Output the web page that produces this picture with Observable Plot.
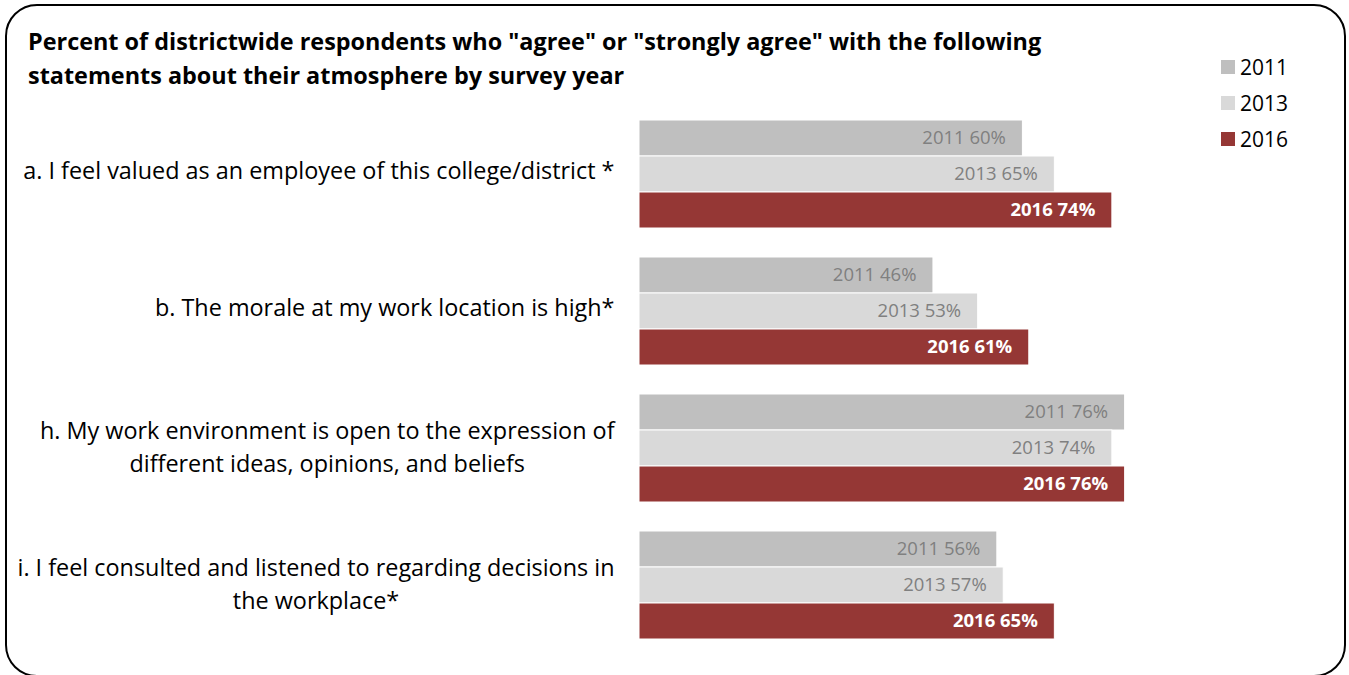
<!DOCTYPE html>
<html>
<head>
<meta charset="utf-8">
<script src="https://cdn.jsdelivr.net/npm/d3@7"></script>
<script src="https://cdn.jsdelivr.net/npm/@observablehq/plot@0.6"></script>
<style>
  html, body { margin: 0; padding: 0; background: #fff; overflow: hidden; }
  #wrap { position: relative; width: 1349px; height: 675px; font-family: "Open Sans", sans-serif; }
  #frame { position: absolute; left: 5px; top: 4px; width: 1341px; height: 673px; box-sizing: border-box;
           border: 2px solid #000; border-radius: 32px; pointer-events: none; }
  #title { position: absolute; left: 28px; top: 24px; font-size: 23.4px; font-weight: bold; line-height: 34px; color: #000; white-space: nowrap; }
  #legend { position: absolute; left: 1221px; top: 49px; font-size: 21px; color: #000; }
  .li { display: flex; align-items: center; height: 36px; }
  .sw { width: 14px; height: 14px; margin-right: 5px; }
  #chart { position: absolute; left: 0; top: 0; }
</style>
</head>
<body>
<div id="wrap">
  <div id="chart"></div>
  <div id="title">Percent of districtwide respondents who "agree" or "strongly agree" with the following<br>statements about their atmosphere by survey year</div>
  <div id="legend"></div>
  <div id="frame"></div>
</div>
<script>
const questions = [
  "a. I feel valued as an employee of this college/district *",
  "b. The morale at my work location is high*",
  "h. My work environment is open to the expression of\ndifferent ideas, opinions, and beliefs",
  "i. I feel consulted and listened to regarding decisions in\nthe workplace*"
];
const years = ["2011", "2013", "2016"];
const values2011 = [60, 46, 76, 56];
const values2013 = [65, 53, 74, 57];
const values2016 = [74, 61, 76, 65];
const colors = ["#bfbfbf", "#d9d9d9", "#953735"];

const series = [values2011, values2013, values2016];
const rows = [];
questions.forEach((q, i) => {
  years.forEach((y, j) => rows.push({q, year: y, value: series[j][i]}));
});

const legend = document.getElementById("legend");
years.forEach((y, j) => {
  const d = document.createElement("div");
  d.className = "li";
  d.innerHTML = `<span class="sw" style="background:${colors[j]}"></span><span>${y}</span>`;
  legend.appendChild(d);
});

const labelSize = 23.4;
const pad = 25;
const ctx = document.createElement("canvas").getContext("2d");
ctx.font = `${labelSize}px 'Open Sans', sans-serif`;

// Category labels: single-line right aligned, wrapped ones centred under the first line (like the original)
const labelMarks = questions.map(q => {
  const lines = q.split("\n");
  if (lines.length === 1) {
    return Plot.text([q], {fy: d => d, text: d => d, frameAnchor: "left", textAnchor: "end",
      dx: -pad, dy: -3.5, fontSize: labelSize, fill: "#000"});
  }
  const w = ctx.measureText(lines[0]).width;
  return Plot.text([q], {fy: d => d, text: d => d, frameAnchor: "left", textAnchor: "middle",
    dx: -pad - w / 2, dy: -3.5, fontSize: labelSize, lineHeight: 1.41, fill: "#000"});
});

const chart = Plot.plot({
  width: 1349,
  height: 675,
  marginLeft: 639,
  marginRight: 71,
  marginTop: 117,
  marginBottom: 34,
  style: {fontFamily: "'Open Sans', sans-serif", background: "transparent"},
  x: {domain: [0, 100], axis: null},
  y: {domain: years, paddingInner: 0, paddingOuter: 0, axis: null},
  fy: {domain: questions, paddingInner: 0.2, paddingOuter: 0, axis: null},
  color: {domain: years, range: colors},
  marks: [
    Plot.barX(rows, {fy: "q", y: "year", x: "value", fill: "year", stroke: "white", strokeWidth: 1, inset: 0}),
    Plot.text(rows.filter(d => d.year !== "2016"), {
      fy: "q", y: "year", x: "value", text: d => `${d.year} ${d.value}%`,
      textAnchor: "end", dx: -17, fill: "#808080", fontSize: 18.5
    }),
    Plot.text(rows.filter(d => d.year === "2016"), {
      fy: "q", y: "year", x: "value", text: d => `${d.year} ${d.value}%`,
      textAnchor: "end", dx: -17, fill: "white", fontWeight: "bold", fontSize: 18.5
    }),
    ...labelMarks
  ]
});
document.getElementById("chart").appendChild(chart);
</script>
</body>
</html>
